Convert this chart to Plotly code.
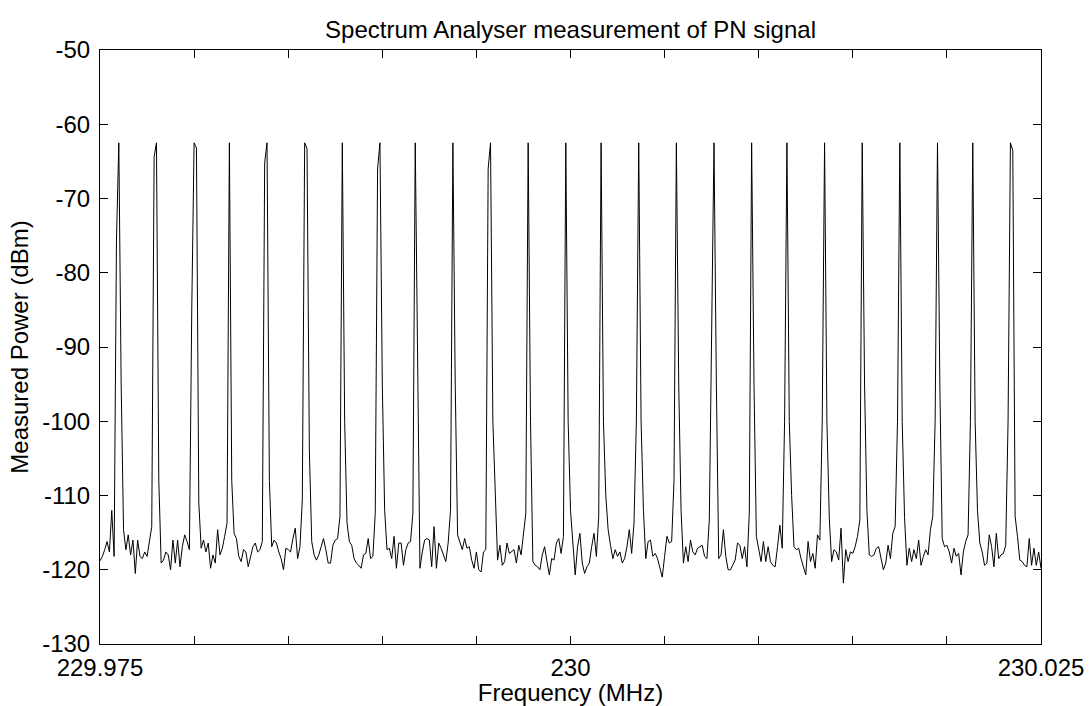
import numpy as np
import plotly.graph_objects as go

# ---------------- data ----------------
title_text = "Spectrum Analyser measurement of PN signal"
x_label = "Frequency (MHz)"
y_label = "Measured Power (dBm)"

sweep_start_mhz = 229.975
sweep_stop_mhz = 230.025

# measured trace (dBm), 401 sweep points
power_dbm = [
    -118.8, -118.2, -117.3, -116.2, -117.6, -112.0, -118.2, -75.6, -62.5,
    -95.0, -114.6, -117.3, -115.3, -118.0, -116.0, -120.5, -116.0, -118.2, -118.5, -117.6, -118.2, -116.4, -114.2, -64.4, -62.5,
    -108.0, -119.1, -118.7, -117.6, -118.0, -120.0, -116.0, -119.1, -116.0, -119.6, -116.9, -115.3, -116.2, -117.3, -85.0, -62.5,
    -63.2, -111.0, -117.1, -116.0, -117.6, -116.4, -119.8, -118.0, -119.1, -114.6, -118.0, -117.1, -115.5, -113.7, -62.5,
    -108.0, -115.1, -115.8, -118.2, -118.9, -117.3, -117.6, -119.6, -118.2, -116.9, -116.4, -117.6, -117.3, -116.2, -65.2, -62.5,
    -108.0, -116.9, -116.0, -116.4, -117.6, -118.5, -120.0, -117.1, -117.3, -117.6, -115.8, -114.4, -118.5, -116.9, -110.6, -62.5,
    -63.3, -104.0, -116.2, -118.0, -118.7, -118.0, -116.9, -115.8, -117.3, -119.1, -119.1, -116.7, -116.0, -115.8, -112.8, -62.5,
    -100.0, -113.7, -116.2, -116.7, -118.5, -119.1, -119.4, -119.8, -118.0, -117.8, -115.8, -118.5, -118.2, -112.4, -66.0, -62.5,
    -95.0, -112.0, -117.3, -117.1, -118.5, -115.5, -119.8, -116.4, -116.4, -119.4, -117.3, -116.4, -116.2, -112.4, -62.5,
    -92.0, -119.8, -117.6, -116.0, -115.8, -116.0, -119.6, -114.2, -119.8, -116.4, -117.1, -118.0, -118.9, -116.4, -112.0, -62.5,
    -95.0, -115.3, -116.2, -117.3, -115.8, -117.1, -116.9, -118.7, -119.8, -117.6, -120.0, -120.3, -117.6, -117.3, -66.0, -62.5,
    -100.0, -110.0, -118.7, -116.7, -119.4, -118.9, -116.4, -117.8, -117.6, -117.3, -119.1, -116.7, -118.0, -115.5, -112.4, -62.5,
    -100.0, -118.9, -119.4, -119.6, -120.0, -118.0, -116.9, -118.9, -120.7, -118.5, -118.7, -116.4, -115.8, -117.8, -115.5, -62.5,
    -100.0, -112.0, -116.0, -120.7, -116.9, -115.1, -119.1, -120.5, -119.6, -119.1, -116.9, -115.1, -118.2, -112.8, -62.5,
    -100.0, -110.0, -114.6, -116.7, -118.5, -117.3, -118.2, -117.6, -119.1, -118.5, -116.9, -114.6, -117.8, -113.7, -100.0, -62.5,
    -100.0, -112.0, -118.5, -116.2, -116.0, -118.2, -117.8, -118.5, -119.8, -121.0, -118.2, -115.5, -116.4, -116.2, -108.0, -62.5,
    -95.0, -112.0, -119.1, -116.9, -118.9, -116.0, -117.6, -118.0, -117.1, -116.9, -116.7, -118.2, -118.5, -113.3, -90.0, -62.5,
    -95.0, -118.5, -118.0, -114.6, -118.2, -120.0, -120.0, -119.4, -118.7, -116.4, -116.7, -118.5, -116.9, -119.6, -112.4, -62.5,
    -95.0, -115.5, -117.3, -118.9, -116.2, -118.9, -116.9, -118.9, -119.4, -119.6, -116.9, -114.0, -117.1, -100.0, -62.5,
    -100.0, -110.0, -116.9, -117.3, -117.1, -118.5, -119.6, -120.7, -116.2, -118.9, -117.8, -119.8, -115.3, -116.0, -100.0, -62.5,
    -100.0, -113.0, -118.9, -117.3, -117.6, -118.7, -114.4, -121.8, -117.3, -118.9, -117.6, -117.8, -116.9, -115.5, -113.3, -62.5,
    -95.0, -112.0, -118.0, -118.2, -118.0, -117.1, -116.9, -118.5, -120.0, -119.1, -116.7, -118.5, -115.1, -114.2, -100.0, -62.5,
    -100.0, -113.0, -119.4, -117.1, -118.9, -117.3, -118.5, -116.0, -119.4, -118.2, -117.3, -118.0, -114.6, -112.8, -100.0, -62.5,
    -95.0, -115.8, -116.9, -116.7, -117.6, -119.1, -117.1, -118.2, -117.8, -120.7, -117.6, -116.2, -115.3, -100.0, -62.5,
    -100.0, -112.0, -116.4, -117.6, -119.4, -119.1, -115.3, -116.9, -119.6, -115.1, -118.5, -118.0, -117.8, -116.7, -100.0, -62.5,
    -63.5, -112.8, -115.5, -118.7, -118.9, -119.4, -119.6, -115.8, -119.4, -117.1, -119.4, -117.6, -119.8,
]

x_tick_vals = [229.975, 229.980, 229.985, 229.990, 229.995, 230.000,
               230.005, 230.010, 230.015, 230.020, 230.025]
x_tick_text = ["229.975", "", "", "", "", "230", "", "", "", "", "230.025"]

y_tick_vals = [-130, -120, -110, -100, -90, -80, -70, -60, -50]
y_tick_text = ["-130", "-120", "-110", "-100", "-90", "-80", "-70", "-60", "-50"]

# --------------- figure ---------------
freq_mhz = np.linspace(sweep_start_mhz, sweep_stop_mhz, len(power_dbm))

FONT = "Liberation Sans, Arial, sans-serif"
FS = 24

fig = go.Figure()
fig.add_trace(go.Scatter(
    x=freq_mhz, y=power_dbm, mode="lines",
    line=dict(color="black", width=1),
    showlegend=False, hoverinfo="skip",
))

axis_common = dict(
    showgrid=False, zeroline=False,
    showline=True, linecolor="black", linewidth=1,
    mirror="ticks", ticks="inside", ticklen=8, tickwidth=1, tickcolor="black",
    tickfont=dict(family=FONT, size=FS, color="black"),
)

fig.update_xaxes(
    range=[sweep_start_mhz, sweep_stop_mhz],
    tickmode="array", tickvals=x_tick_vals, ticktext=x_tick_text,
    title=dict(text=x_label, font=dict(family=FONT, size=FS, color="black"), standoff=0),
    ticklabelstandoff=2,
    **axis_common,
)
fig.update_yaxes(
    range=[-130, -50],
    tickmode="array", tickvals=y_tick_vals, ticktext=y_tick_text,
    title=dict(text=y_label, font=dict(family=FONT, size=FS, color="black"), standoff=6),
    ticklabelstandoff=4,
    **axis_common,
)

fig.update_layout(
    width=1092, height=706,
    margin=dict(l=100, r=51, t=50, b=62, autoexpand=False),
    paper_bgcolor="white", plot_bgcolor="white",
    title=dict(text=title_text, x=0.5225, xanchor="center",
               y=1 - 38 / 706, yref="container", yanchor="bottom",
               font=dict(family=FONT, size=FS, color="black")),
    font=dict(family=FONT, color="black"),
)

fig.write_html("out.html",
               config={"displayModeBar": False},
               post_script="document.body.style.margin='0';document.body.style.padding='0';")
